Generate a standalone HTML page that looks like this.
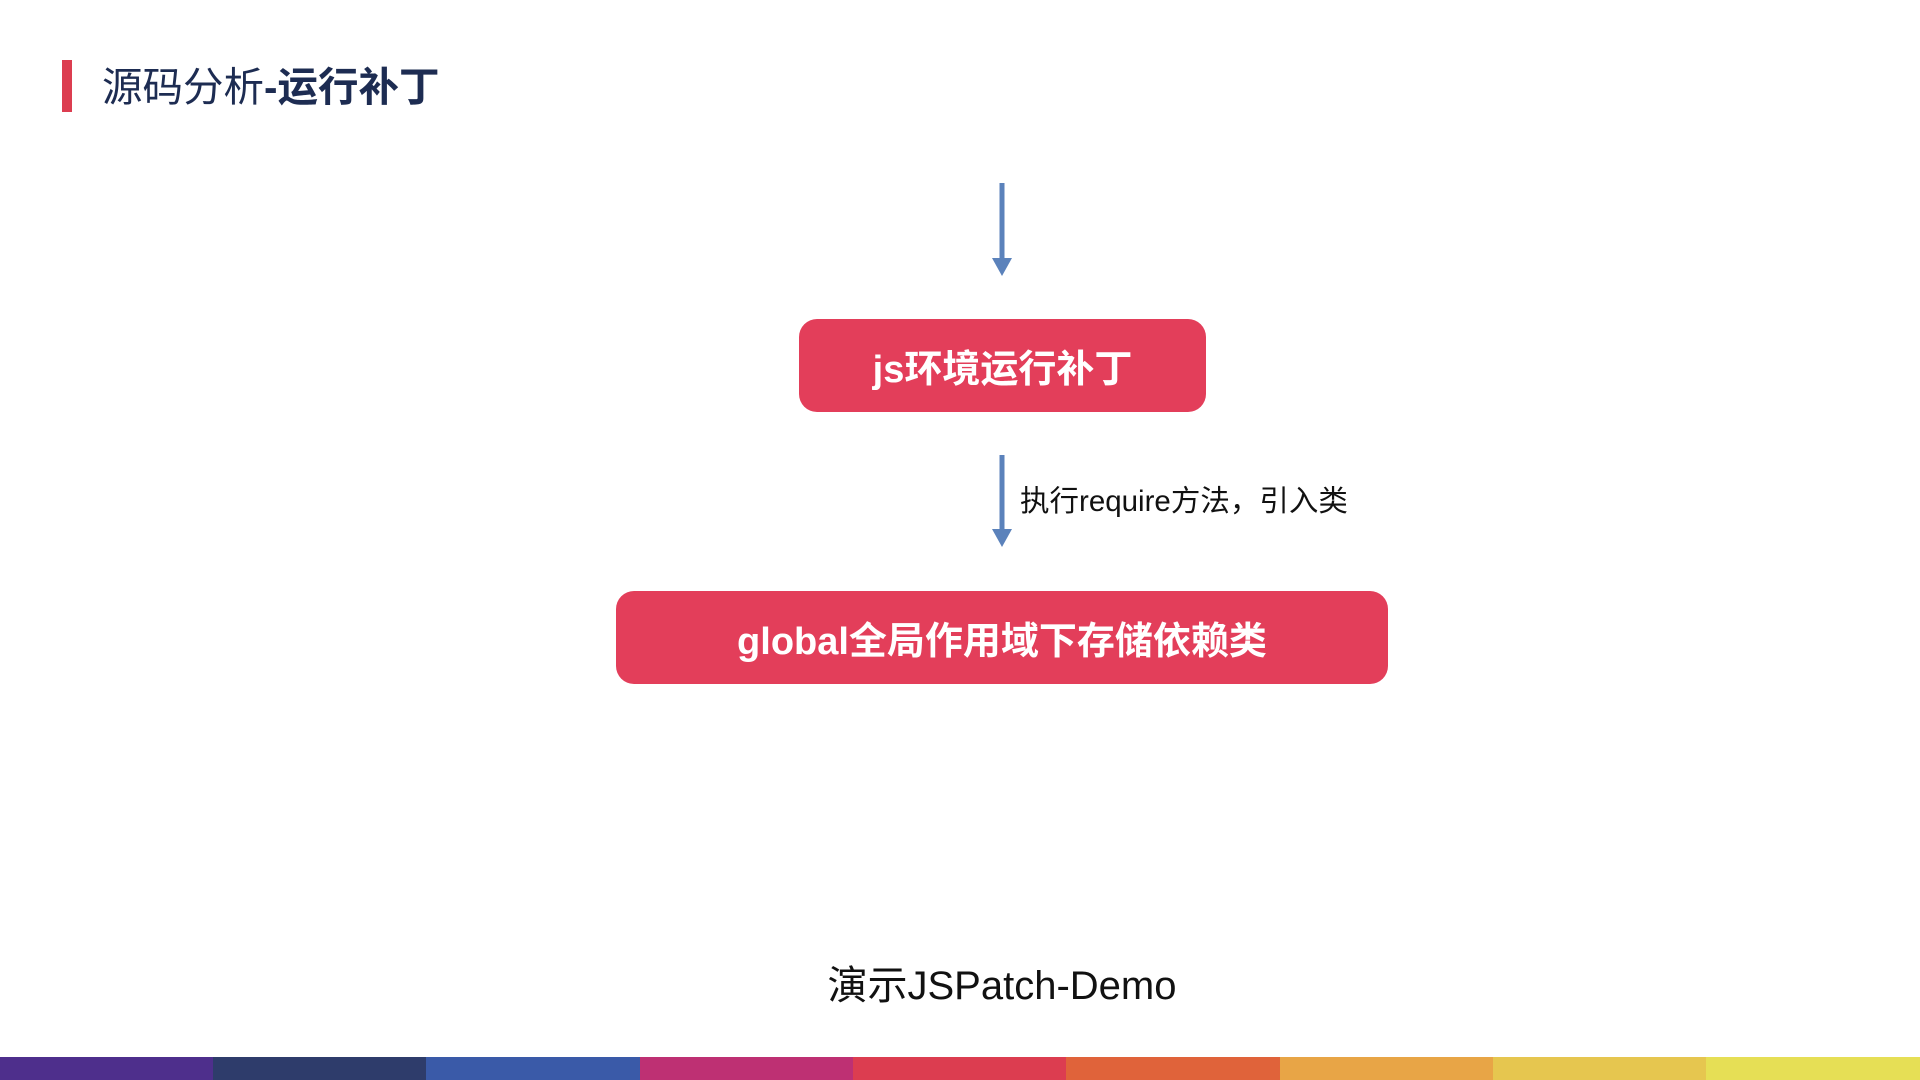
<!DOCTYPE html>
<html><head><meta charset="utf-8"><style>
html,body{margin:0;padding:0;width:1920px;height:1080px;background:#fff;overflow:hidden;position:relative;font-family:"Liberation Sans","Noto Sans CJK SC",sans-serif}
.abs{position:absolute}
.box{position:absolute;background:#e33e5a;border-radius:18px;color:#fff;font-weight:bold;font-size:38px;display:flex;align-items:center;justify-content:center}
.bar{position:absolute;top:1057px;height:23px}
</style></head><body>
<div class="abs" style="left:62px;top:60px;width:10px;height:52px;background:#dc3d50"></div>
<div class="abs" style="left:102px;top:62px;font-size:40.5px;color:#1d2c52;line-height:50px">源码分析<b>-运行补丁</b></div>

<svg class="abs" style="left:0;top:0" width="1920" height="1080">
<line x1="1002" y1="183" x2="1002" y2="262" stroke="#5b82bb" stroke-width="5"/>
<polygon points="992,258 1012,258 1002,276" fill="#5b82bb"/>
<line x1="1002" y1="455" x2="1002" y2="533" stroke="#5b82bb" stroke-width="5"/>
<polygon points="992,529 1012,529 1002,547" fill="#5b82bb"/>
</svg>

<div class="box" style="left:799px;top:319px;width:407px;height:93px">js环境运行补丁</div>
<div class="box" style="left:616px;top:591px;width:772px;height:93px">global全局作用域下存储依赖类</div>
<div class="abs" style="left:1020px;top:483px;font-size:29.5px;color:#111;line-height:38px">执行require方法，引入类</div>
<div class="abs" style="left:0;width:2004px;top:960px;text-align:center;font-size:40px;color:#111;line-height:52px">演示JSPatch-Demo</div>

<div class="bar" style="left:0;width:214px;background:#4e2f8c"></div>
<div class="bar" style="left:213px;width:214px;background:#2e3c6b"></div>
<div class="bar" style="left:426px;width:214px;background:#3a5aa8"></div>
<div class="bar" style="left:640px;width:214px;background:#be3073"></div>
<div class="bar" style="left:853px;width:214px;background:#dc3d50"></div>
<div class="bar" style="left:1066px;width:214px;background:#e0633a"></div>
<div class="bar" style="left:1280px;width:214px;background:#e8a546"></div>
<div class="bar" style="left:1493px;width:214px;background:#e6c64f"></div>
<div class="bar" style="left:1706px;width:214px;background:#e6df55"></div>
</body></html>
